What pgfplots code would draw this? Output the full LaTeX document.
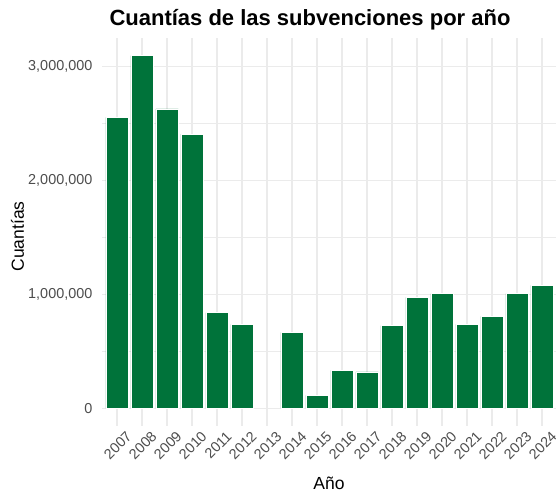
\documentclass[border=0pt]{standalone}
\usepackage{pgfplots}
\pgfplotsset{compat=1.18}
\usepackage{fontspec}
\setmainfont{Liberation Sans}
\definecolor{barg}{HTML}{00733A}
\definecolor{gridc}{HTML}{EBEBEB}
\definecolor{tickc}{HTML}{4D4D4D}
\begin{document}
\begin{tikzpicture}
\useasboundingbox (0,0) rectangle (556pt,498pt);
\begin{axis}[
  at={(102pt,72.1pt)}, anchor=south west,
  scale only axis, width=455pt, height=387.8pt,
  xmin=-0.6, xmax=17.6, ymin=-154900, ymax=3252900,
  axis line style={draw=none}, tick style={draw=none},
  major tick length=0pt, minor tick length=0pt,
  scaled y ticks=false,
  xtick={0,...,17},
  xticklabels={2007,2008,2009,2010,2011,2012,2013,2014,2015,2016,2017,2018,2019,2020,2021,2022,2023,2024},
  ytick={0,1000000,2000000,3000000},
  yticklabels={0,{1,000,000},{2,000,000},{3,000,000}},
  minor ytick={500000,1500000,2500000},
  xmajorgrids, ymajorgrids, yminorgrids,
  major grid style={gridc, line width=1.1pt},
  minor grid style={gridc, line width=0.55pt},
  ticklabel style={font=\fontsize{14.4}{17}\selectfont, text=tickc},
  yticklabel style={anchor=east, inner sep=0pt, xshift=-9.5pt},
  xticklabel style={rotate=45, anchor=north east, inner sep=0pt, xshift=3pt, yshift=-9pt},
  ybar, bar width=0.9,
]
\addplot[fill=barg, draw=white, line width=0.5pt] coordinates {
(0,2557000) (1,3098000) (2,2630000) (3,2410000) (4,840000) (5,738000)
(7,666000) (8,114000) (9,334000) (10,320000) (11,726000) (12,975000)
(13,1007000) (14,738000) (15,808000) (16,1007000) (17,1081000)
};
\end{axis}
\node[anchor=base, font=\fontsize{22}{26}\selectfont\bfseries] at (310pt,472pt) {Cuantías de las subvenciones por año};
\node[anchor=base, font=\fontsize{17.5}{21}\selectfont] at (329pt,8.7pt) {Año};
\node[anchor=base, rotate=90, font=\fontsize{17.5}{21}\selectfont] at (24pt,261.5pt) {Cuantías};
\end{tikzpicture}
\end{document}
